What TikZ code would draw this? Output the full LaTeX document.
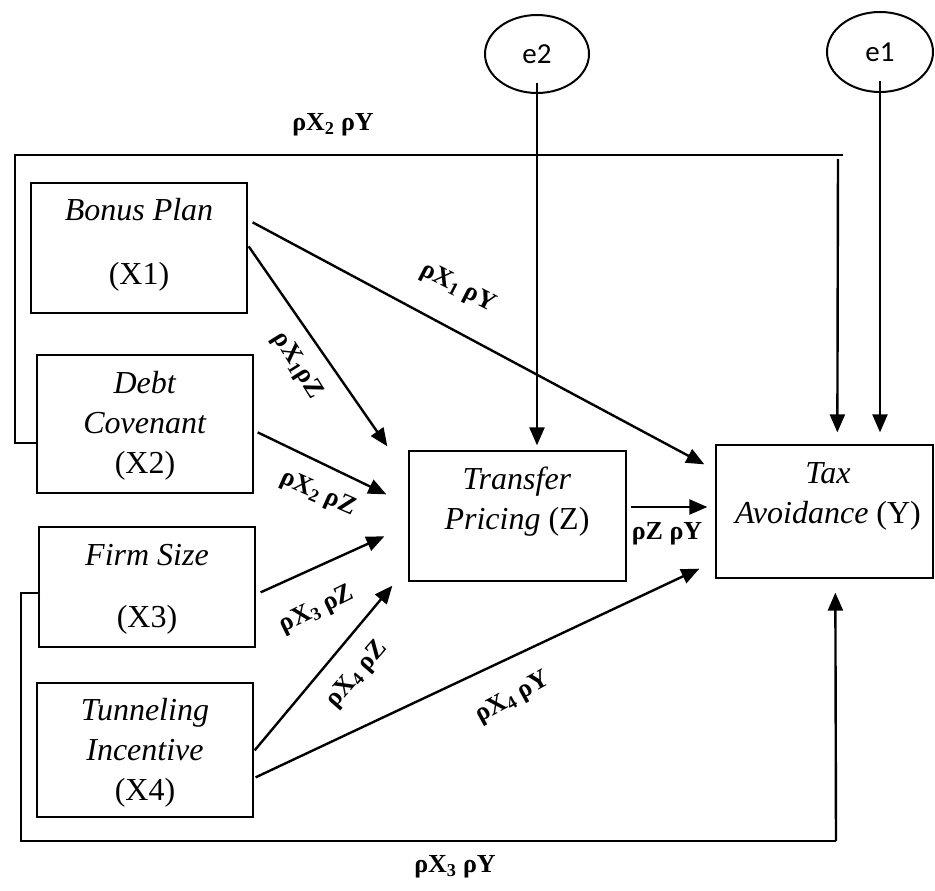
\documentclass[tikz,border=0pt]{standalone}
\usepackage{fontspec}
\setmainfont{Liberation Serif}
\newfontfamily\errfont{Carlito}
\usetikzlibrary{arrows.meta,shapes.geometric,calc}
\begin{document}
\begin{tikzpicture}[x=1pt,y=-1pt,
  box/.style={draw,line width=1.3pt,rectangle,inner sep=0pt},
  txt/.style={align=center,inner sep=0pt,font=\fontsize{32}{40}\selectfont},
  err/.style={draw,ellipse,line width=2pt,inner sep=0pt,font=\errfont\fontsize{29}{34}\selectfont},
  arr/.style={line width=2.4pt,-{Triangle[length=18pt,width=15pt]}},
  fb/.style={line width=1.5pt},
  lbl/.style={font=\bfseries\fontsize{26}{30}\selectfont,inner sep=0pt}]
\useasboundingbox (0,0) rectangle (935,891);

% boxes
\node[box,minimum width=216pt,minimum height=130pt] (x1) at (139,248) {};
\node[box,minimum width=216pt,minimum height=138pt] (x2) at (145,424) {};
\node[box,minimum width=216pt,minimum height=120pt] (x3) at (147,587) {};
\node[box,minimum width=216pt,minimum height=134pt] (x4) at (145,750) {};
\node[box,minimum width=217pt,minimum height=130pt] (z) at (517.5,516) {};
\node[box,minimum width=217pt,minimum height=133pt] (y) at (824.5,511.5) {};
\node[err,minimum width=104pt,minimum height=78pt] (e2) at (537,54) {e2};
\node[err,minimum width=106pt,minimum height=80pt] (e1) at (880,52) {e1};

% box texts
\node[txt] (x1t) at (139,245) {\textit{Bonus Plan}\\[24pt](X1)};
\node[txt] (x2t) at (145,426) {\textit{Debt}\\\textit{Covenant}\\(X2)};
\node[txt] (x3t) at (147,589) {\textit{Firm Size}\\[22pt](X3)};
\node[txt] (x4t) at (145,753) {\textit{Tunneling}\\\textit{Incentive}\\(X4)};
\node[txt] (zt) at (517,502) {\textit{Transfer}\\\textit{Pricing} (Z)};
\node[txt] (yt) at (828,496) {\textit{Tax}\\\textit{Avoidance} (Y)};

% direct paths
\draw[arr] ([shift={(5,40)}]x1.north east) -- ([shift={(-11,20)}]y.north west);
\draw[arr] ([shift={(1,64)}]x1.north east) -- ([shift={(-21,-4)}]z.north west);
\draw[arr] ([shift={(4,78)}]x2.north east) -- ([shift={(-22,44)}]z.north west);
\draw[arr] ([shift={(5,66)}]x3.north east) -- ([shift={(-24,86)}]z.north west);
\draw[arr] ([shift={(1,68)}]x4.north east) -- ([shift={(-16,4)}]z.south west);
\draw[arr] ([shift={(2,95)}]x4.north east) -- ([shift={(-16,-10)}]y.south west);
\draw[arr] ([shift={(4,-9)}]z.east) -- ([shift={(-8,-4.5)}]y.west);
\draw[arr] ([shift={(0,29)}]e2.center) -- ($(e2.center |- z.north)+(0,-5)$);
\draw[arr] ([shift={(0,29)}]e1.center) -- ($(e1.center |- y.north)+(0,-12)$);

% feedback paths
\coordinate (c2a) at (15,443);
\coordinate (c2b) at (15,155);
\coordinate (c2c) at (843,155);
\coordinate (c2d) at (838,159);
\draw[fb] ([shift={(0,19)}]x2.west) -- (c2a) -- (c2b) -- (c2c);
\draw[arr] (c2d) -- ([shift={(122,-12)}]y.north west);

\coordinate (c3a) at (21,593);
\coordinate (c3b) at (21,841);
\coordinate (c3c) at (836,841);
\draw[fb] ([shift={(2,6)}]x3.west) -- (c3a) -- (c3b) -- (c3c);
\draw[arr] (c3c) -- ([shift={(120,14)}]y.south west);

% labels
\node[lbl] (l1) at (333,125) {ρX\textsubscript{2} ρY};
\node[lbl,rotate=-27] (l2) at (458,288) {ρX\textsubscript{1} ρY};
\node[lbl,rotate=-58] (l3) at (297,366) {ρX\textsubscript{1}ρZ};
\node[lbl,rotate=-24] (l4) at (318,494) {ρX\textsubscript{2} ρZ};
\node[lbl,rotate=26] (l5) at (317,610) {ρX\textsubscript{3} ρZ};
\node[lbl,rotate=49] (l6) at (357,675) {ρX\textsubscript{4} ρZ};
\node[lbl,rotate=29] (l7) at (513,698) {ρX\textsubscript{4} ρY};
\node[lbl] (l8) at (667,534) {ρZ ρY};
\node[lbl] (l9) at (455,867) {ρX\textsubscript{3} ρY};
\end{tikzpicture}
\end{document}
